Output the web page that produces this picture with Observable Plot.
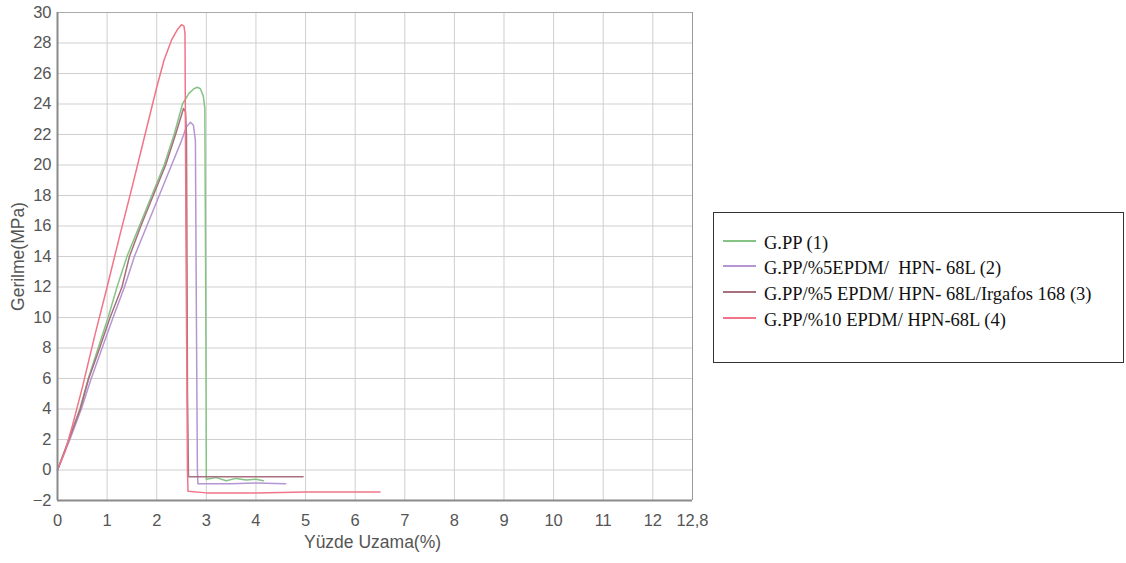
<!DOCTYPE html>
<html>
<head>
<meta charset="utf-8">
<script src="https://cdn.jsdelivr.net/npm/d3@7"></script>
<script src="https://cdn.jsdelivr.net/npm/@observablehq/plot@0.6"></script>
<style>
  html, body { margin: 0; padding: 0; background: #fff; }
  #wrap { position: relative; width: 1126px; height: 563px; }
  #legend {
    position: absolute; left: 713px; top: 212px; width: 411px; height: 151px;
    border: 1.5px solid #333; box-sizing: border-box;
    font-family: "Liberation Serif", "Times New Roman", serif; font-size: 18.5px; color: #111;
  }
  .item { position: absolute; left: 9px; display: flex; align-items: center; white-space: pre; line-height: 22px; }
  .sw { width: 33px; height: 0; border-top: 2px solid; margin-right: 8px; margin-top: -4px; }
</style>
</head>
<body>
<div id="wrap"><div id="chart"></div><div id="legend"></div></div>
<script>
// Series names
const seriesNames = [
  "G.PP (1)",
  "G.PP/%5EPDM/  HPN- 68L (2)",
  "G.PP/%5 EPDM/ HPN- 68L/Irgafos 168 (3)",
  "G.PP/%10 EPDM/ HPN-68L (4)"
];
const seriesColors = ["#86c486", "#b596d2", "#a8707e", "#f27488"];

// Strain (%) / stress (MPa)
const s1x = [0,0.23,0.45,0.62,0.82,1.02,1.2,1.4,1.65,1.9,2.15,2.35,2.52,2.65,2.75,2.82,2.88,2.94,2.97,2.99,3.0,3.0,3.2,3.4,3.6,3.8,4.0,4.15];
const s1y = [0,2,4,6,8,10,12,14,16,18,20,22,24,24.7,25.0,25.1,25.0,24.5,23.7,10,0,-0.6,-0.5,-0.7,-0.55,-0.65,-0.6,-0.7];

const s2x = [0,0.25,0.48,0.68,0.9,1.12,1.35,1.55,1.8,2.05,2.3,2.5,2.6,2.68,2.74,2.78,2.8,2.82,2.83,3.5,4.0,4.6];
const s2y = [0,2,4,6,8,10,12,14,16,18,20,21.6,22.5,22.8,22.6,21.6,10,0,-0.9,-0.9,-0.85,-0.9];

const s3x = [0,0.23,0.46,0.63,0.85,1.06,1.3,1.45,1.68,1.93,2.18,2.38,2.54,2.58,2.6,2.62,2.64,3.0,4.0,4.95];
const s3y = [0,2,4,6,8,10,12,14,16,18,20,22,23.7,23.5,22,5,-0.45,-0.45,-0.45,-0.45];

const s4x = [0,0.15,0.3,0.5,0.75,1.0,1.25,1.5,1.75,2.0,2.15,2.3,2.42,2.5,2.55,2.57,2.59,2.62,2.63,3.0,4.0,5.0,6.5];
const s4y = [0,1.2,2.9,5.4,8.8,12,15.3,18.5,21.8,25.1,26.9,28.2,28.9,29.2,29.1,28.6,15,0,-1.4,-1.5,-1.5,-1.45,-1.45];

const xTicks = [0,1,2,3,4,5,6,7,8,9,10,11,12,12.8];
const yTicks = [-2,0,2,4,6,8,10,12,14,16,18,20,22,24,26,28,30];

const allX = [s1x, s2x, s3x, s4x];
const allY = [s1y, s2y, s3y, s4y];
const data = [];
allX.forEach((xs, i) => xs.forEach((x, j) => data.push({x, y: allY[i][j], s: seriesNames[i]})));

const fmt = d => String(d).replace(".", ",");

const chart = Plot.plot({
  width: 1126,
  height: 563,
  marginLeft: 57,
  marginRight: 434,
  marginTop: 12,
  marginBottom: 63,
  style: {fontFamily: "'Liberation Sans', Arial, sans-serif", fontSize: "16px", color: "#555", background: "#fff"},
  x: {domain: [0, 12.8], ticks: xTicks, tickFormat: fmt, label: null},
  y: {domain: [-2, 30], ticks: yTicks, label: null},
  color: {domain: seriesNames, range: seriesColors},
  marks: [
    Plot.gridX(xTicks, {stroke: "#cfcfcf", strokeOpacity: 1, strokeWidth: 1}),
    Plot.gridY(yTicks, {stroke: "#cfcfcf", strokeOpacity: 1, strokeWidth: 1}),
    Plot.ruleY([30], {stroke: "#aaa", strokeWidth: 1}),
    Plot.ruleX([12.8], {stroke: "#999", strokeWidth: 1}),
    Plot.line(data, {x: "x", y: "y", z: "s", stroke: "s", strokeWidth: 1.5, curve: "linear"}),
    Plot.ruleX([0], {stroke: "#8a8a8a", strokeWidth: 2}),
    Plot.ruleY([-2], {stroke: "#8a8a8a", strokeWidth: 2}),
    Plot.axisX({ticks: xTicks, tickFormat: fmt, tickSize: 0, tickPadding: 14, fill: "#555", fontSize: 16.5, label: null}),
    Plot.axisY({ticks: yTicks, tickSize: 0, tickPadding: 6, fill: "#555", fontSize: 16.5, label: null}),
    Plot.text(["Yüzde Uzama(%)"], {frameAnchor: "bottom", x: 6.35, y: -2, dy: 47, fill: "#555", fontSize: 17.5}),
    Plot.text(["Gerilme(MPa)"], {x: 0, y: 14, dx: -39, dy: 0, rotate: -90, fill: "#555", fontSize: 17.5})
  ]
});
document.getElementById("chart").appendChild(chart);

// Legend
const legend = document.getElementById("legend");
const rowTops = [19, 44, 70, 96];
seriesNames.forEach((name, i) => {
  const d = document.createElement("div");
  d.className = "item";
  d.style.top = rowTops[i] + "px";
  const sw = document.createElement("span");
  sw.className = "sw";
  sw.style.borderTopColor = seriesColors[i];
  const t = document.createElement("span");
  t.textContent = name;
  d.appendChild(sw); d.appendChild(t);
  legend.appendChild(d);
});
</script>
</body>
</html>
